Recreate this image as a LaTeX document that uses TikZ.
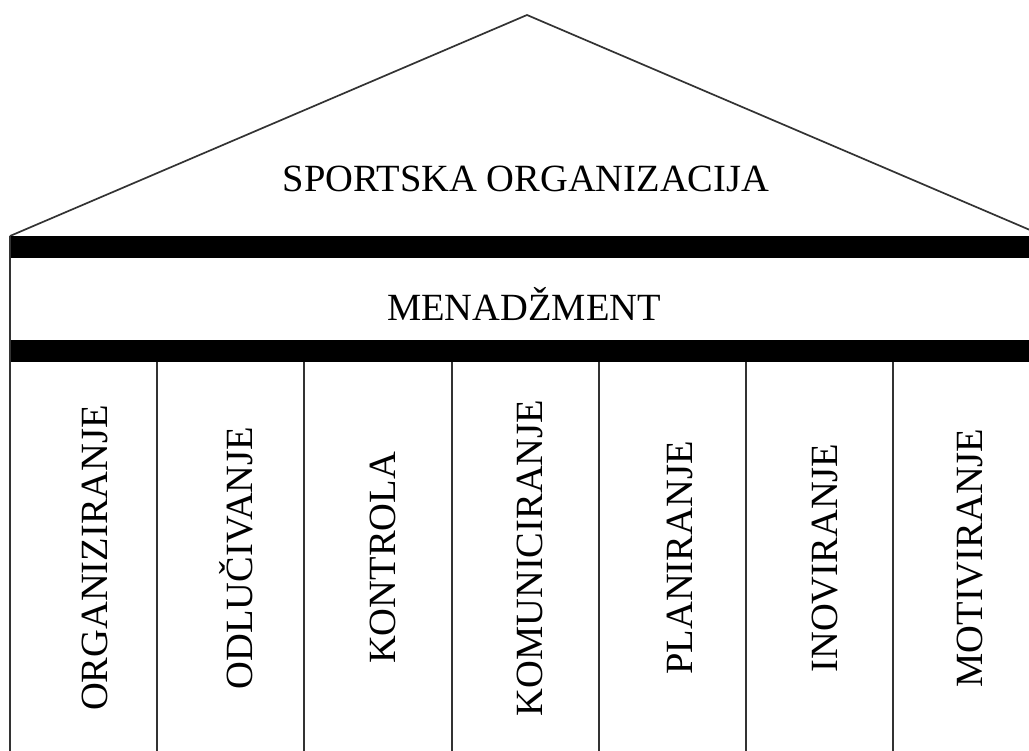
\documentclass[tikz,border=0pt]{standalone}
\usepackage{fontspec}
\setmainfont{Liberation Serif}
\tikzset{
  wall/.style={line width=1.7pt, black!80},
  beam/.style={fill=black, draw=none},
  bigtext/.style={font=\fontsize{38.5}{40}\selectfont, inner sep=0pt},
  pillartext/.style={bigtext, rotate=90}
}
\begin{document}
\begin{tikzpicture}[x=1pt,y=-1pt]
  \useasboundingbox (0,0) rectangle (1029,751);
  \clip (0,0) rectangle (1029,751);

  % roof
  \draw[wall] (10,236) -- (527,15) -- (1044,236);
  \node[bigtext] (org) at (526,179) {SPORTSKA ORGANIZACIJA};

  % the two black beams
  \fill[beam] (10,236) rectangle (1040,258);
  \fill[beam] (10,340) rectangle (1040,362);
  \node[bigtext] (men) at (524,304) {MENADŽMENT};

  % outer wall and pillar boundaries
  \draw[wall] (10,236) -- (10,760);
  \draw[wall] (157,362) -- (157,760);
  \draw[wall] (304,362) -- (304,760);
  \draw[wall] (452,362) -- (452,760);
  \draw[wall] (599,362) -- (599,760);
  \draw[wall] (746,362) -- (746,760);
  \draw[wall] (893,362) -- (893,760);

  % pillar labels
  \node[pillartext] (p1) at (95,558) {ORGANIZIRANJE};
  \node[pillartext] (p2) at (236,558) {ODLUČIVANJE};
  \node[pillartext] (p3) at (383,558) {KONTROLA};
  \node[pillartext] (p4) at (530,558) {KOMUNICIRANJE};
  \node[pillartext] (p5) at (680,558) {PLANIRANJE};
  \node[pillartext] (p6) at (825,558) {INOVIRANJE};
  \node[pillartext] (p7) at (970,558) {MOTIVIRANJE};
\end{tikzpicture}
\end{document}
